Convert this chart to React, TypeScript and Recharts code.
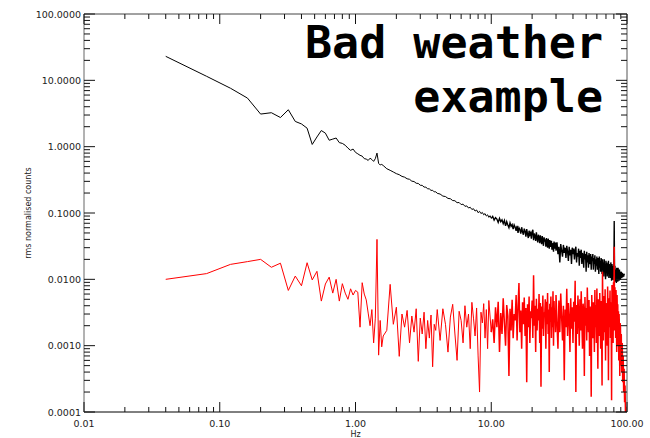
import { LineChart, Line, XAxis, YAxis } from 'recharts'

// power spectra, split into frequency bands (Hz)
const hzLow = [
  0.04, 0.08, 0.12, 0.16, 0.2, 0.24, 0.28, 0.32, 0.36, 0.4,
  0.44, 0.48, 0.52, 0.56, 0.6, 0.64, 0.68, 0.72, 0.76, 0.8,
  0.84, 0.88, 0.92, 0.96, 1.0, 1.04, 1.08, 1.12, 1.16, 1.2,
  1.24, 1.28, 1.32, 1.36, 1.4, 1.44, 1.48, 1.52, 1.56, 1.6,
]
const blackLow = [
  23, 11.5, 7.6, 5.4, 3.1, 3.25, 2.75, 3.6, 2.4, 2.2,
  1.9, 1.08, 1.4, 1.75, 1.6, 1.25, 1.3, 1.35, 1.15, 1.12,
  1.05, 0.95, 0.88, 0.92, 0.82, 0.78, 0.74, 0.72, 0.66, 0.65,
  0.62, 0.67, 0.64, 0.6, 0.66, 0.8, 0.56, 0.53, 0.54, 0.52,
]
const redLow = [
  0.01, 0.0122, 0.0168, 0.0185, 0.02, 0.0152, 0.0175, 0.0068, 0.0112, 0.008,
  0.0178, 0.0098, 0.0132, 0.0047, 0.0085, 0.0108, 0.0062, 0.01, 0.0047, 0.0086,
  0.0062, 0.005, 0.0072, 0.0058, 0.0068, 0.0064, 0.0019, 0.0089, 0.006, 0.0049,
  0.0031, 0.002, 0.0035, 0.0011, 0.0026, 0.04, 0.00072, 0.0024, 0.00096, 0.0014,
]

const hzMid = [
  1.7, 1.8, 1.9, 2.0, 2.1, 2.2, 2.3, 2.4, 2.5, 2.6,
  2.7, 2.8, 2.9, 3.0, 3.1, 3.2, 3.3, 3.4, 3.5, 3.6,
  3.7, 3.8, 3.9, 4.0,
]
const blackMid = [
  0.465, 0.44, 0.415, 0.392, 0.378, 0.356, 0.347, 0.328, 0.322, 0.302,
  0.298, 0.281, 0.279, 0.262, 0.261, 0.246, 0.245, 0.232, 0.231, 0.219,
  0.22, 0.208, 0.209, 0.198,
]
const redMid = [
  0.0017, 0.0084, 0.0021, 0.0038, 0.00069, 0.003, 0.0019, 0.0034, 0.0011, 0.0028,
  0.0016, 0.0036, 0.00058, 0.0026, 0.0015, 0.0032, 0.0009, 0.0024, 0.0013, 0.0029,
  0.00048, 0.0021, 0.0017, 0.0035,
]

const hzUpper = [
  4.2, 4.4, 4.6, 4.8, 5.0, 5.2, 5.4, 5.6, 5.8, 6.0,
  6.2, 6.4, 6.6, 6.8, 7.0, 7.2, 7.4, 7.6, 7.8, 8.0,
  8.2, 8.4, 8.6, 8.8, 9.0, 9.2, 9.4, 9.6, 9.8, 10.0,
]
const blackUpper = [
  0.193, 0.18, 0.177, 0.166, 0.164, 0.154, 0.153, 0.143, 0.144, 0.134,
  0.136, 0.126, 0.128, 0.119, 0.122, 0.113, 0.116, 0.107, 0.111, 0.101,
  0.106, 0.098, 0.102, 0.094, 0.098, 0.09, 0.094, 0.086, 0.091, 0.083,
]
const redUpper = [
  0.0012, 0.0036, 0.0021, 0.0008, 0.0027, 0.0042, 0.0015, 0.0006, 0.0033, 0.0024,
  0.0011, 0.004, 0.0019, 0.003, 0.0009, 0.0045, 0.0026, 0.0014, 0.0037, 0.0007,
  0.0002, 0.0032, 0.0022, 0.0043, 0.0013, 0.0035, 0.0009, 0.0048, 0.0028, 0.0016,
]

const hzTens = [
  10.25, 10.5, 10.75, 11, 11.25, 11.5, 11.75, 12, 12.25, 12.5,
  12.75, 13, 13.25, 13.5, 13.75, 14, 14.25, 14.5, 14.75, 15,
  15.25, 15.5, 15.75, 16, 16.25, 16.5, 16.75, 17, 17.25, 17.5,
  17.75, 18, 18.25, 18.5, 18.75, 19, 19.25, 19.5, 19.75, 20,
  20.25, 20.5, 20.75, 21, 21.25, 21.5, 21.75, 22, 22.25, 22.5,
  22.75, 23, 23.25, 23.5, 23.75, 24, 24.25, 24.5, 24.75, 25,
  25.25, 25.5, 25.75, 26, 26.25, 26.5, 26.75, 27, 27.25, 27.5,
  27.75, 28, 28.25, 28.5, 28.75, 29, 29.25, 29.5, 29.75, 30,
]
const blackTens = [
  0.089, 0.078, 0.085, 0.081, 0.072, 0.083, 0.074, 0.079, 0.069, 0.077,
  0.064, 0.074, 0.066, 0.06, 0.071, 0.063, 0.067, 0.057, 0.066, 0.061,
  0.054, 0.064, 0.05, 0.06, 0.056, 0.049, 0.061, 0.052, 0.047, 0.058,
  0.053, 0.044, 0.057, 0.048, 0.042, 0.054, 0.047, 0.05, 0.041, 0.052,
  0.056, 0.039, 0.049, 0.045, 0.038, 0.051, 0.042, 0.036, 0.047, 0.043,
  0.035, 0.046, 0.039, 0.034, 0.045, 0.038, 0.032, 0.043, 0.037, 0.04,
  0.031, 0.042, 0.035, 0.03, 0.041, 0.036, 0.029, 0.039, 0.034, 0.031,
  0.038, 0.028, 0.035, 0.032, 0.026, 0.037, 0.031, 0.029, 0.036, 0.027,
]
const redTens = [
  0.0025, 0.0011, 0.0038, 0.0019, 0.0046, 0.0008, 0.0031, 0.0015, 0.0052, 0.0022,
  0.001, 0.0041, 0.0028, 0.00035, 0.0036, 0.0017, 0.0049, 0.0013, 0.003, 0.0024,
  0.0058, 0.0012, 0.0039, 0.0088, 0.0016, 0.0034, 0.0009, 0.0045, 0.0021, 0.0053,
  0.0014, 0.0037, 0.00028, 0.0042, 0.0019, 0.0055, 0.0011, 0.0033, 0.0026, 0.0048,
  0.0013, 0.0115, 0.002, 0.004, 0.0008, 0.0051, 0.0017, 0.0036, 0.0024, 0.006,
  0.0011, 0.0044, 0.00024, 0.0039, 0.0018, 0.0057, 0.0014, 0.0032, 0.0027, 0.005,
  0.0009, 0.0046, 0.0021, 0.0062, 0.0015, 0.0035, 0.0004, 0.0043, 0.0023, 0.0055,
  0.0013, 0.0038, 0.0019, 0.0066, 0.001, 0.0047, 0.0025, 0.0034, 0.0016, 0.0058,
]

const hzHigh = [
  30.5, 31, 31.5, 32, 32.5, 33, 33.5, 34, 34.5, 35,
  35.5, 36, 36.5, 37, 37.5, 38, 38.5, 39, 39.5, 40,
  40.5, 41, 41.5, 42, 42.5, 43, 43.5, 44, 44.5, 45,
  45.5, 46, 46.5, 47, 47.5, 48, 48.5, 49, 49.5, 50,
  50.5, 51, 51.5, 52, 52.5, 53, 53.5, 54, 54.5, 55,
  55.5, 56, 56.5, 57, 57.5, 58, 58.5, 59, 59.5, 60,
  60.5, 61, 61.5, 62, 62.5, 63, 63.5, 64, 64.5, 65,
  65.5, 66, 66.5, 67, 67.5, 68, 68.5, 69, 69.5, 70,
  70.5, 71, 71.5, 72, 72.5, 73, 73.5, 74, 74.5, 75,
  75.5, 76, 76.5, 77, 77.5, 78, 78.5, 79, 79.5, 80,
  80.5, 81, 81.5, 82, 82.5, 83, 83.5, 84, 84.5, 85,
  85.5, 86, 86.5, 87, 87.5, 88, 88.5, 89, 89.5, 90,
]
const blackHigh = [
  0.036, 0.024, 0.031, 0.018, 0.034, 0.027, 0.022, 0.033, 0.025, 0.03,
  0.021, 0.032, 0.026, 0.019, 0.031, 0.023, 0.028, 0.017, 0.03, 0.024,
  0.029, 0.02, 0.027, 0.031, 0.018, 0.025, 0.022, 0.029, 0.016, 0.027,
  0.021, 0.028, 0.017, 0.025, 0.022, 0.015, 0.027, 0.02, 0.024, 0.013,
  0.026, 0.018, 0.023, 0.015, 0.025, 0.02, 0.017, 0.024, 0.014, 0.022,
  0.019, 0.024, 0.014, 0.021, 0.017, 0.023, 0.013, 0.02, 0.016, 0.022,
  0.014, 0.021, 0.017, 0.012, 0.022, 0.015, 0.019, 0.013, 0.021, 0.016,
  0.012, 0.02, 0.015, 0.018, 0.011, 0.02, 0.014, 0.017, 0.01, 0.019,
  0.013, 0.018, 0.011, 0.016, 0.014, 0.019, 0.0105, 0.017, 0.013, 0.015,
  0.0105, 0.018, 0.013, 0.0095, 0.017, 0.012, 0.015, 0.0098, 0.016, 0.012,
  0.076, 0.011, 0.016, 0.0092, 0.014, 0.012, 0.0088, 0.015, 0.011, 0.0135,
  0.0092, 0.015, 0.011, 0.0135, 0.0095, 0.014, 0.0105, 0.013, 0.0098, 0.0125,
]
const redHigh = [
  0.0022, 0.0009, 0.0048, 0.0016, 0.0061, 0.0027, 0.0012, 0.004, 0.0003, 0.0035,
  0.0019, 0.0072, 0.0014, 0.0044, 0.0026, 0.0008, 0.0052, 0.0018, 0.0038, 0.0011,
  0.0046, 0.0023, 0.0095, 0.0002, 0.0041, 0.0015, 0.0057, 0.0029, 0.001, 0.005,
  0.0017, 0.0066, 0.0024, 0.0009, 0.0043, 0.0031, 0.00035, 0.0054, 0.002, 0.0037,
  0.0012, 0.0075, 0.0028, 0.0016, 0.0049, 0.0007, 0.0039, 0.0022, 0.00017, 0.0058,
  0.0025, 0.0013, 0.0045, 0.0033, 0.0008, 0.0069, 0.0019, 0.0041, 0.0011, 0.0073,
  0.0021, 0.00045, 0.005, 0.003, 0.0014, 0.0062, 0.0024, 0.0009, 0.0047, 0.0018,
  0.00025, 0.013, 0.0027, 0.0012, 0.0056, 0.0035, 0.0016, 0.0071, 0.0006, 0.0044,
  0.0023, 0.004, 0.001, 0.0078, 0.0029, 0.0003, 0.0052, 0.0019, 0.0036, 0.0068,
  0.0013, 0.0045, 0.0026, 0.00015, 0.0082, 0.0021, 0.005, 0.0011, 0.009, 0.0034,
  0.031, 0.0017, 0.0076, 0.0028, 0.0013, 0.0069, 0.0035, 0.0008, 0.0058, 0.0024,
  0.0042, 0.001, 0.0033, 0.0006, 0.003, 0.0016, 0.00035, 0.0022, 0.0019, 0.0005,
]

const hzTail = [90.75, 91.5, 92.25, 93, 93.75, 94.5, 95.25, 96, 96.75, 97.5, 98.25, 99, 99.75]
const blackTail = [0.013, 0.0105, 0.0125, 0.0108, 0.012, 0.011, 0.0118, 0.0115]
const redTail = [0.0015, 0.0004, 0.0011, 0.00028, 0.0007, 0.0002, 0.00045, 0.00014, 0.00025, 0.00009, 0.00012, 0.00006, 0.00004]

const decadesX = [0.01, 0.1, 1, 10, 100]
const labelsX = ['0.01', '0.10', '1.00', '10.00', '100.00']
const decadesY = [0.0001, 0.001, 0.01, 0.1, 1, 10, 100]
const labelsY = ['0.0001', '0.0010', '0.0100', '0.1000', '1.0000', '10.0000', '100.0000']
const minorSteps = [2, 3, 4, 5, 6, 7, 8, 9]

// bands above 10 Hz are drawn with a slightly heavier stroke so the noise reads as a solid band
const bands: [number[], number[], number[], boolean][] = [
  [hzLow, blackLow, redLow, false],
  [hzMid, blackMid, redMid, false],
  [hzUpper, blackUpper, redUpper, false],
  [hzTens, blackTens, redTens, true],
  [hzHigh, blackHigh, redHigh, true],
  [hzTail, blackTail, redTail, true],
]

const rows = bands.flatMap(([hz, k, r, dense]) =>
  hz.map((f, i) => {
    const black = k[i] ?? null
    const red = r[i] ?? null
    const joint = f === 10
    return {
      hz: f,
      black: dense ? null : black,
      red: dense ? null : red,
      blackDense: dense || joint ? black : null,
      redDense: dense || joint ? red : null,
    }
  })
)

function withMinor(decades: number[]) {
  return decades.flatMap((d, i) => (i < decades.length - 1 ? [d, ...minorSteps.map(s => d * s)] : [d]))
}

const xTicks = withMinor(decadesX)
const yTicks = withMinor(decadesY)

const tickFont = { fontFamily: '"DejaVu Sans", sans-serif', fontSize: 9.5, fill: '#222' }
const tickStroke = '#111'

function BottomTick({ x, y, payload }: any) {
  const i = decadesX.indexOf(payload.value)
  return (
    <g>
      <line x1={x} y1={y} x2={x} y2={y - (i >= 0 ? 10 : 5)} stroke={tickStroke} />
      {i >= 0 && (
        <text x={x} y={y + 15} textAnchor="middle" {...tickFont}>
          {labelsX[i]}
        </text>
      )}
    </g>
  )
}

function TopTick({ x, y, payload }: any) {
  const major = decadesX.includes(payload.value)
  return <line x1={x} y1={y} x2={x} y2={y + (major ? 10 : 5)} stroke={tickStroke} />
}

function LeftTick({ x, y, payload }: any) {
  const i = decadesY.indexOf(payload.value)
  return (
    <g>
      <line x1={x} y1={y} x2={x + (i >= 0 ? 11 : 6)} y2={y} stroke={tickStroke} />
      {i >= 0 && (
        <text x={x - 3} y={y + 3.5} textAnchor="end" {...tickFont}>
          {labelsY[i]}
        </text>
      )}
    </g>
  )
}

function RightTick({ x, y, payload }: any) {
  const major = decadesY.includes(payload.value)
  return <line x1={x} y1={y} x2={x - (major ? 11 : 6)} y2={y} stroke={tickStroke} />
}

const logX = { type: 'number' as const, scale: 'log' as const, domain: [0.01, 100], allowDataOverflow: true }
const logY = { type: 'number' as const, scale: 'log' as const, domain: [0.0001, 100], allowDataOverflow: true }

export default function App() {
  return (
    <div style={{ position: 'absolute', left: 0, top: 0, width: 650, height: 438, background: '#fff' }}>
      <LineChart width={650} height={438} data={rows} margin={{ top: 13, right: 22, bottom: 0, left: 8 }}>
        <XAxis
          xAxisId="bottom"
          dataKey="hz"
          {...logX}
          ticks={xTicks}
          interval={0}
          tickSize={0}
          tickMargin={0}
          tick={BottomTick}
          height={26}
          axisLine={{ stroke: '#000' }}
          label={{ value: 'Hz', position: 'insideBottom', offset: 1, fontSize: 8, fill: '#222', fontFamily: '"DejaVu Sans", sans-serif' }}
        />
        <XAxis
          xAxisId="top"
          orientation="top"
          dataKey="hz"
          {...logX}
          ticks={xTicks}
          interval={0}
          tickSize={0}
          tickMargin={0}
          tick={TopTick}
          height={1}
          axisLine={{ stroke: '#444' }}
        />
        <YAxis
          yAxisId="left"
          {...logY}
          ticks={yTicks}
          interval={0}
          tickSize={0}
          tickMargin={0}
          tick={LeftTick}
          width={76}
          axisLine={{ stroke: '#666' }}
          label={{
            value: 'rms normalised counts',
            angle: -90,
            position: 'insideLeft',
            offset: 20,
            fontSize: 8,
            fill: '#222',
            fontFamily: '"DejaVu Sans", sans-serif',
            style: { textAnchor: 'middle' },
          }}
        />
        <YAxis
          yAxisId="right"
          orientation="right"
          {...logY}
          ticks={yTicks}
          interval={0}
          tickSize={0}
          tickMargin={0}
          tick={RightTick}
          width={1}
          axisLine={{ stroke: '#555' }}
        />
        <Line xAxisId="bottom" yAxisId="left" dataKey="black" type="linear" stroke="#000" strokeWidth={1} dot={false} isAnimationActive={false} />
        <Line xAxisId="bottom" yAxisId="left" dataKey="blackDense" type="linear" stroke="#000" strokeWidth={1.4} dot={false} isAnimationActive={false} />
        <Line xAxisId="bottom" yAxisId="left" dataKey="red" type="linear" stroke="#ff0000" strokeWidth={1} dot={false} isAnimationActive={false} />
        <Line xAxisId="bottom" yAxisId="left" dataKey="redDense" type="linear" stroke="#ff0000" strokeWidth={1.5} dot={false} isAnimationActive={false} />
      </LineChart>
      <svg width={650} height={438} style={{ position: 'absolute', left: 0, top: 0, pointerEvents: 'none' }}>
        <g fontFamily='"DejaVu Sans Mono", monospace' fontWeight="bold" fontSize={45} fill="#000" textAnchor="end">
          <text x={603} y={58}>Bad weather</text>
          <text x={603} y={112}>example</text>
        </g>
      </svg>
    </div>
  )
}
